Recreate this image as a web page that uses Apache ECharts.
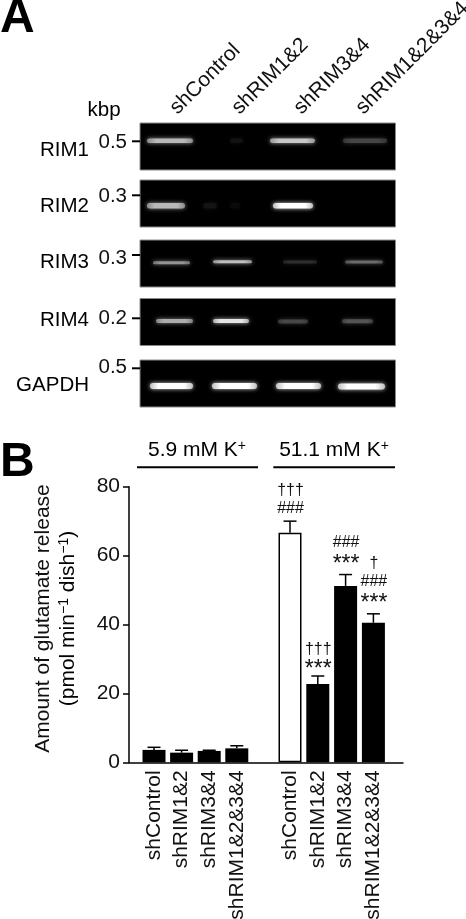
<!DOCTYPE html>
<html>
<head>
<meta charset="utf-8">
<style>html,body{margin:0;padding:0;background:#fff}#main{width:466px;height:919px}</style>
<script src="https://cdn.jsdelivr.net/npm/echarts@6/dist/echarts.min.js"></script>
</head>
<body>
<div id="main"></div>
<script>
// panel A: gel bands as [start, end, migration, intensity] in gel units
var laneNames = ['shControl', 'shRIM1&2', 'shRIM3&4', 'shRIM1&2&3&4'];
var geneNames = ['RIM1', 'RIM2', 'RIM3', 'RIM4', 'GAPDH'];
var sizeLabels = ['0.5', '0.3', '0.3', '0.2', '0.5'];
var sizeMarkers = [18.3, 15.3, 15, 19.8, 8.3];
var rim1Bands = [[7, 53, 17.7, 0.72], [90, 103, 17.7, 0.07], [130, 175, 17.7, 0.78], [203, 247, 17.7, 0.27]];
var rim2Bands = [[7, 45, 25.7, 0.72], [63, 77, 25.7, 0.08], [90, 100, 25.7, 0.04], [133, 173, 25.7, 1]];
var rim3Bands = [[13, 50, 22.7, 0.58], [73, 112, 21.7, 0.75], [143, 177, 22, 0.18], [205, 243, 22, 0.42]];
var rim4Bands = [[16, 53, 22.4, 0.68], [73, 109, 22.4, 0.9], [138, 168, 23, 0.28], [202, 233, 22.8, 0.33]];
var gapdhBands = [[10, 53, 26, 1], [72, 117, 26, 1], [136, 181, 26, 1], [198, 245, 26.5, 1]];

// panel B: glutamate release
var lowKValues = [3.6, 2.8, 3.3, 4.05];
var lowKErrors = [0.75, 0.7, 0.2, 0.75];
var highKValues = [66.6, 22.7, 51.2, 40.5];
var highKErrors = [3.4, 2.35, 3.3, 2.6];
var highKMarks = [['†††', '###'], ['†††', '***'], ['###', '***'], ['†', '###', '***']];

// layout
var gelLeft = 140, gelWidth = 255.5, gelHeight = 47;
var gelTops = [123, 180, 240, 298.5, 360];
var bandHeights = [4.5, 5.5, 3, 4, 6];
var sizeLabelY = [19.7, 16.7, 18, 19.5, 7];
var plotTop = 486.7, plotHeight = 275.6;
var markFirst = [13, 10, 14, 14.5];
var markGap = [18, 16, 18, 18];
var geneY = [150.7, 206.7, 262.7, 320.7, 385];
var labelFont = 'Liberation Sans, Arial, sans-serif';

var myChart = echarts.init(document.getElementById('main'));

var grids = [], xAxes = [], yAxes = [], series = [];

function gray(v, a) {
    var g = Math.round(255 * v);
    return 'rgba(' + g + ',' + g + ',' + g + ',' + a + ')';
}

[rim1Bands, rim2Bands, rim3Bands, rim4Bands, gapdhBands].forEach(function (bands, i) {
    grids.push({
        left: gelLeft, top: gelTops[i], width: gelWidth, height: gelHeight, outerBoundsMode: 'none',
        show: true, backgroundColor: '#000', borderColor: '#8a8a8a', borderWidth: 1
    });
    xAxes.push({ gridIndex: i, type: 'value', min: 0, max: gelWidth, show: false });
    yAxes.push({
        gridIndex: i, type: 'value', min: 0, max: gelHeight, inverse: true,
        axisLine: { show: false },
        splitLine: { show: false },
        axisTick: { show: false },
        axisLabel: {
            show: true, customValues: [sizeLabelY[i]], margin: 13,
            color: '#111', fontSize: 20.5, fontFamily: labelFont,
            formatter: function () { return sizeLabels[i]; }
        }
    });
    series.push({
        type: 'custom', xAxisIndex: i, yAxisIndex: i, silent: true,
        data: bands,
        renderItem: function (params, api) {
            var a = api.coord([api.value(0), api.value(2)]);
            var b = api.coord([api.value(1), api.value(2)]);
            var h = bandHeights[i];
            var v = api.value(3);
            return {
                type: 'rect',
                shape: { x: a[0], y: a[1] - h / 2, width: b[0] - a[0], height: h, r: h / 2 },
                style: {
                    fill: new echarts.graphic.LinearGradient(0, 0, 1, 0, [
                        { offset: 0, color: gray(v * 0.75, 1) },
                        { offset: 0.2, color: gray(v, 1) },
                        { offset: 0.8, color: gray(v, 1) },
                        { offset: 1, color: gray(v * 0.75, 1) }
                    ]),
                    shadowColor: gray(v, 0.8),
                    shadowBlur: 4
                }
            };
        }
    });
});

// lane names above the gels
grids.push({ left: 142.5, top: 116, width: 248, height: 4, outerBoundsMode: 'none' });
xAxes.push({
    gridIndex: 5, type: 'category', position: 'top', data: laneNames,
    axisLine: { show: false }, axisTick: { show: false },
    axisLabel: { interval: 0, rotate: 45, margin: 5, color: '#111', fontSize: 21, fontFamily: labelFont, hideOverlap: false }
});
yAxes.push({ gridIndex: 5, type: 'value', show: false });

// panel B frame: y axis and baseline
grids.push({ left: 129, top: plotTop, width: 274, height: plotHeight, outerBoundsMode: 'none' });
xAxes.push({
    gridIndex: 6, type: 'value', min: 0, max: 1,
    axisLine: { onZero: false, lineStyle: { color: '#000', width: 1.5 } },
    axisTick: { show: false }, axisLabel: { show: false }, splitLine: { show: false }
});
yAxes.push({
    gridIndex: 6, type: 'value', min: 0, max: 80, interval: 20,
    axisLine: { show: true, lineStyle: { color: '#000', width: 1.5 } },
    axisTick: { show: true, length: 6, lineStyle: { color: '#000', width: 1.5 } },
    axisLabel: { margin: 9, color: '#111', fontSize: 21, fontFamily: labelFont },
    splitLine: { show: false }
});

function addBarGroup(gridIndex, left, width, values, errors, marks, firstWhite) {
    grids.push({ left: left, top: plotTop, width: width, height: plotHeight, outerBoundsMode: 'none' });
    xAxes.push({
        gridIndex: gridIndex, type: 'category', data: laneNames,
        axisLine: { show: false }, axisTick: { show: false },
        axisLabel: { interval: 0, rotate: 90, margin: 8, color: '#111', fontSize: 21, fontFamily: labelFont, hideOverlap: false }
    });
    yAxes.push({ gridIndex: gridIndex, type: 'value', min: 0, max: 80, show: false });
    series.push({
        type: 'bar', xAxisIndex: gridIndex, yAxisIndex: gridIndex, barWidth: 23, silent: true,
        data: values.map(function (v, k) {
            var white = firstWhite && k === 0;
            return {
                value: v,
                itemStyle: white ? { color: '#fff', borderColor: '#000', borderWidth: 1.5 } : { color: '#000' }
            };
        })
    });
    series.push({
        type: 'custom', xAxisIndex: gridIndex, yAxisIndex: gridIndex, silent: true, z: 3,
        data: values.map(function (v, k) { return [k, v, errors[k]]; }),
        renderItem: function (params, api) {
            var k = api.value(0);
            var top = api.coord([k, api.value(1) + api.value(2)]);
            var base = api.coord([k, api.value(1)]);
            var line = { stroke: '#000', lineWidth: 1.5 };
            var kids = [
                { type: 'line', shape: { x1: top[0], y1: base[1], x2: top[0], y2: top[1] }, style: line },
                { type: 'line', shape: { x1: top[0] - 6.5, y1: top[1], x2: top[0] + 6.5, y2: top[1] }, style: line }
            ];
            if (marks) {
                var rows = marks[k];
                rows.forEach(function (txt, r) {
                    var fromBottom = rows.length - 1 - r;
                    var y = top[1] - markFirst[k] - fromBottom * markGap[k];
                    var star = txt.charAt(0) === '*';
                    kids.push({
                        type: 'text',
                        style: {
                            text: txt,
                            x: top[0] + 0.5,
                            y: star ? y + 4 : y,
                            align: 'center', verticalAlign: 'middle',
                            font: (star ? '23px ' : '16px ') + labelFont,
                            fill: '#111'
                        }
                    });
                });
            }
            return { type: 'group', children: kids };
        }
    });
}

addBarGroup(7, 140.2, 110.4, lowKValues, lowKErrors, null, false);
addBarGroup(8, 276.1, 111.2, highKValues, highKErrors, highKMarks, true);

var graphic = [];
function addText(text, x, y, align, fontSize, weight) {
    graphic.push({
        type: 'text', x: x, y: y, silent: true,
        style: { text: text, align: align, verticalAlign: 'middle', fill: '#000', font: (weight || 'normal') + ' ' + fontSize + 'px ' + labelFont }
    });
}
addText('A', 0, 19, 'left', 48, 'bold');
addText('B', 0, 462.5, 'left', 48, 'bold');
addText('kbp', 104, 110, 'center', 20.5);
geneNames.forEach(function (name, i) {
    addText(name, 89, geneY[i], 'right', 20.5);
});

// superscript text helper styles
var richBase = { fontSize: 21, fontFamily: labelFont, color: '#111' };
var richSup = { fontSize: 14, fontFamily: labelFont, color: '#111', verticalAlign: 'top', lineHeight: 22 };
[['5.9 mM K', 197], ['51.1 mM K', 334]].forEach(function (h) {
    graphic.push({
        type: 'text', x: h[1], y: 450, silent: true,
        style: {
            text: '{b|' + h[0] + '}{s|+}', align: 'center', verticalAlign: 'middle',
            rich: { b: richBase, s: richSup }
        }
    });
});
[[137, 258], [273.3, 395]].forEach(function (s) {
    graphic.push({ type: 'line', silent: true, shape: { x1: s[0], y1: 467.3, x2: s[1], y2: 467.3 }, style: { stroke: '#000', lineWidth: 2 } });
});
graphic.push({
    type: 'text', x: 43, y: 618.5, rotation: Math.PI / 2, silent: true,
    style: { text: 'Amount of glutamate release', align: 'center', verticalAlign: 'middle', fill: '#111', font: '21px ' + labelFont }
});
graphic.push({
    type: 'text', x: 68, y: 618.5, rotation: Math.PI / 2, silent: true,
    style: {
        text: '{b|(pmol min}{s|−1}{b| dish}{s|−1}{b|)}', align: 'center', verticalAlign: 'middle',
        rich: { b: richBase, s: richSup }
    }
});

var option = {
    animation: false,
    backgroundColor: '#fff',
    grid: grids,
    xAxis: xAxes,
    yAxis: yAxes,
    series: series,
    graphic: graphic
};

option && myChart.setOption(option);

// size marker ticks, placed through each gel's scales
sizeMarkers.forEach(function (m, i) {
    var p = myChart.convertToPixel({ xAxisIndex: i, yAxisIndex: i }, [0, m]);
    graphic.push({
        type: 'rect', silent: true, z: 100,
        shape: { x: p[0] - 8, y: p[1] - 1, width: 8, height: 2 },
        style: { fill: '#000' }
    });
});
myChart.setOption({ graphic: graphic });
</script>
</body>
</html>
